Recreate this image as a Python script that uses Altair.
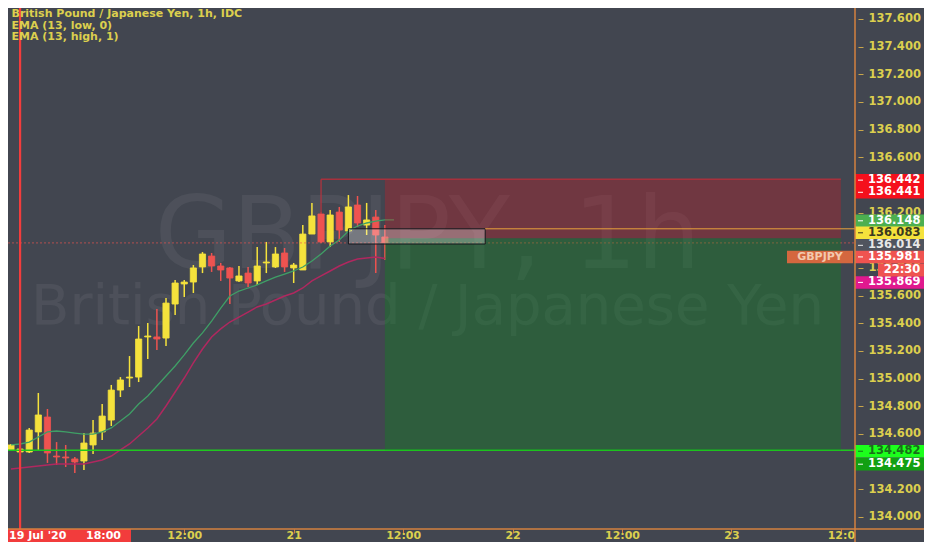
import altair as alt
import pandas as pd
import numpy as np

# ---------------- data ----------------
times = [
    "2020-07-19T17:00:00Z", "2020-07-19T18:00:00Z", "2020-07-19T19:00:00Z", "2020-07-19T20:00:00Z",
    "2020-07-19T21:00:00Z", "2020-07-19T22:00:00Z", "2020-07-19T23:00:00Z",
    "2020-07-20T00:00:00Z", "2020-07-20T01:00:00Z", "2020-07-20T02:00:00Z", "2020-07-20T03:00:00Z",
    "2020-07-20T04:00:00Z", "2020-07-20T05:00:00Z", "2020-07-20T06:00:00Z", "2020-07-20T07:00:00Z",
    "2020-07-20T08:00:00Z", "2020-07-20T09:00:00Z", "2020-07-20T10:00:00Z", "2020-07-20T11:00:00Z",
    "2020-07-20T12:00:00Z", "2020-07-20T13:00:00Z", "2020-07-20T14:00:00Z", "2020-07-20T15:00:00Z",
    "2020-07-20T16:00:00Z", "2020-07-20T17:00:00Z", "2020-07-20T18:00:00Z", "2020-07-20T19:00:00Z",
    "2020-07-20T20:00:00Z", "2020-07-20T21:00:00Z", "2020-07-20T22:00:00Z", "2020-07-20T23:00:00Z",
    "2020-07-21T00:00:00Z", "2020-07-21T01:00:00Z", "2020-07-21T02:00:00Z", "2020-07-21T03:00:00Z",
    "2020-07-21T04:00:00Z", "2020-07-21T05:00:00Z", "2020-07-21T06:00:00Z", "2020-07-21T07:00:00Z",
    "2020-07-21T08:00:00Z", "2020-07-21T09:00:00Z", "2020-07-21T10:00:00Z",
]
opens = [134.484, 134.469, 134.469, 134.614, 134.722, 134.440, 134.433, 134.419, 134.404, 134.520,
         134.614, 134.700, 134.917, 135.004, 135.011, 135.301, 135.301, 135.293, 135.539, 135.684,
         135.698, 135.807, 135.886, 135.814, 135.800, 135.706, 135.763, 135.706, 135.836, 135.807,
         135.908, 135.800, 135.785, 136.045, 136.190, 135.988, 136.204, 136.067, 136.255, 136.110,
         136.168, 136.024]
highs = [134.527, 134.495, 134.642, 134.896, 134.780, 134.541, 134.520, 134.433, 134.606, 134.700,
         134.816, 134.954, 135.011, 135.163, 135.380, 135.402, 135.503, 135.583, 135.713, 135.713,
         135.821, 135.915, 135.908, 135.836, 135.807, 135.814, 135.807, 135.951, 135.988, 135.951,
         135.944, 135.836, 136.110, 136.270, 136.200, 136.219, 136.241, 136.327, 136.320, 136.270,
         136.219, 136.110]
lows = [134.480, 134.465, 134.462, 134.484, 134.390, 134.375, 134.361, 134.317, 134.339, 134.455,
        134.556, 134.657, 134.867, 134.939, 134.975, 135.142, 135.207, 135.236, 135.460, 135.590,
        135.619, 135.763, 135.771, 135.706, 135.539, 135.698, 135.662, 135.677, 135.763, 135.800,
        135.771, 135.691, 135.785, 136.045, 135.980, 135.951, 135.988, 136.060, 136.096, 136.038,
        135.763, 135.857]
closes = [134.520, 134.491, 134.628, 134.737, 134.462, 134.433, 134.426, 134.397, 134.534, 134.606,
          134.729, 134.917, 134.990, 135.011, 135.286, 135.308, 135.286, 135.546, 135.691, 135.698,
          135.800, 135.901, 135.814, 135.785, 135.727, 135.742, 135.691, 135.814, 135.843, 135.901,
          135.807, 135.821, 136.045, 136.176, 135.988, 136.183, 136.074, 136.241, 136.125, 136.147,
          136.038, 135.981]

# EMA (13, high, 1) -- shifted one bar to the right, so one more point
ema_high_times = times + ["2020-07-21T11:00:00Z"]
ema_high = [134.520, 134.527, 134.541, 134.578, 134.614, 134.621, 134.614, 134.606, 134.599, 134.599,
            134.614, 134.643, 134.693, 134.744, 134.816, 134.874, 134.946, 135.019, 135.091, 135.171,
            135.257, 135.330, 135.416, 135.510, 135.597, 135.633, 135.655, 135.677, 135.706, 135.734,
            135.756, 135.778, 135.807, 135.850, 135.901, 135.959, 136.002, 136.067, 136.103, 136.125,
            136.139, 136.147, 136.148]
# EMA (13, low, 0)
ema_low = [134.346, 134.353, 134.361, 134.368, 134.375, 134.382, 134.382, 134.382, 134.382, 134.397,
           134.411, 134.440, 134.484, 134.527, 134.585, 134.643, 134.708, 134.802, 134.903, 135.004,
           135.113, 135.214, 135.301, 135.359, 135.409, 135.445, 135.481, 135.518, 135.539, 135.568,
           135.597, 135.619, 135.655, 135.706, 135.742, 135.778, 135.814, 135.843, 135.865, 135.872,
           135.879, 135.869]

header_lines = ["British Pound / Japanese Yen, 1h, IDC", "EMA (13, low, 0)", "EMA (13, high, 1)"]
watermark_lines = ["GBPJPY, 1h", "British Pound / Japanese Yen"]

# price-scale labels (136.000, 136.400 and 134.400 sit fully under the coloured tags)
y_ticks = [134.0, 134.2, 134.6, 134.8, 135.0, 135.2, 135.4, 135.6, 135.8,
           136.2, 136.6, 136.8, 137.0, 137.2, 137.4, 137.6]

last_price = 135.981
entry_price = 136.014
stop_price = 136.442
target_price = 134.482
box_top, box_bottom = 136.083, 135.973
crosshair_time = "2020-07-19T18:00:00Z"
position_start, position_end = "2020-07-21T10:00:00Z", "2020-07-23T12:00:00Z"
stop_line_start = "2020-07-21T03:00:00Z"
stop_line_low = 136.190
box_start, box_end = "2020-07-21T06:00:00Z", "2020-07-21T21:00:00Z"

tag_prices = [136.442, 136.441, 136.148, 136.083, 136.014, 135.981, 135.869, 134.482, 134.475]
tag_texts = ["136.442", "136.441", "136.148", "136.083", "136.014", "135.981", "135.869", "134.482", "134.475"]
tag_fill = ["#f5101c", "#f5101c", "#4caf50", "#f5e23c", "#50545e", "#ef5350", "#e0198e", "#1cff1c", "#12a012"]
tag_ink = ["#ffffff", "#ffffff", "#ffffff", "#3a3a20", "#e8e8e8", "#ffffff", "#ffffff", "#1a6e1a", "#ffffff"]
tag_dy = [1, 13, 1, 4, 7, 14, 24, 1, 13]

countdown_text = "22:30"
symbol_tag = "GBPJPY"
crosshair_label = ["19 Jul '20", "18:00"]

# ---------------- style ----------------
BG = "#424650"
ORANGE = "#d4823f"
YELLOW = "#dccf4e"
UP = "#f5e23c"
DOWN = "#ee5350"
FONT = "DejaVu Sans"
W, H = 847, 521
PAD_R, PAD_B = 69, 13

x_scale = alt.Scale(type="utc", domain=[
    alt.DateTime(year=2020, month=7, date=19, hours=17, minutes=13, seconds=20, utc=True),
    alt.DateTime(year=2020, month=7, date=23, hours=13, utc=True)])
y_scale = alt.Scale(domain=[133.9124, 137.6795], zero=False, nice=False)

x_axis = alt.Axis(
    values=[alt.DateTime(year=2020, month=7, date=d, hours=h, utc=True)
            for d, h in [(20, 12), (21, 0), (21, 12), (22, 0), (22, 12), (23, 0), (23, 12)]],
    labelExpr="utchours(datum.value) == 0 ? ('' + utcdate(datum.value)) : (utcdate(datum.value) == 23 ? '12:0' : '12:00')",
    labelColor=YELLOW, labelFont=FONT, labelFontSize=11, labelFontWeight="bold",
    tickColor=ORANGE, tickSize=4, domain=False, grid=False, labelPadding=5.5,
    labelBaseline="alphabetic", labelFlush=False, labelOverlap=False, title=None)
y_axis = alt.Axis(
    orient="right", values=y_ticks, format=".3f",
    labelColor=YELLOW, labelFont=FONT, labelFontSize=11.5, labelFontWeight="bold",
    tickColor="#c9a64a", tickSize=5, offset=3, labelPadding=5, domain=False, grid=False,
    labelAlign="left", labelBaseline="middle", labelOverlap=False, labelFlush=False, title=None)


def X(f):
    return alt.X(f"{f}:T", scale=x_scale, axis=x_axis, title=None)


def Y(f):
    return alt.Y(f"{f}:Q", scale=y_scale, axis=y_axis, title=None)


one = pd.DataFrame({"a": [0]})

df = pd.DataFrame({"t": times, "o": opens, "h": highs, "l": lows, "c": closes})
df["dir"] = np.where(df["c"] >= df["o"], "up", "down")
cscale = alt.Scale(domain=["up", "down"], range=[UP, DOWN])

layers = []

# watermark
wm_sizes = [100, 56]
wm_base = [260, 316]
for txt, fs, yb in zip(watermark_lines, wm_sizes, wm_base):
    layers.append(alt.Chart(pd.DataFrame({"t": [txt]})).mark_text(
        font=FONT, fontSize=fs, color="#ffffff", opacity=0.055, align="center", baseline="alphabetic"
    ).encode(x=alt.value(W / 2 - 4), y=alt.value(yb), text="t:N"))

# candles
layers.append(alt.Chart(df).mark_rule(strokeWidth=1.5, clip=True).encode(
    x=X("t"), y=Y("l"), y2="h:Q",
    color=alt.Color("dir:N", scale=cscale, legend=None)))
layers.append(alt.Chart(df).mark_bar(size=6.2, strokeWidth=0.8, clip=True).encode(
    x=X("t"), y=Y("o"), y2="c:Q",
    color=alt.Color("dir:N", scale=cscale, legend=None),
    stroke=alt.Stroke("dir:N", scale=cscale, legend=None)))

# EMAs
layers.append(alt.Chart(pd.DataFrame({"t": ema_high_times, "v": ema_high})).mark_line(
    color="#3f9f66", strokeWidth=1.3, clip=True).encode(x=X("t"), y=Y("v")))
layers.append(alt.Chart(pd.DataFrame({"t": times, "v": ema_low})).mark_line(
    color="#b0285f", strokeWidth=1.5, clip=True).encode(x=X("t"), y=Y("v")))

# last price dotted line
layers.append(alt.Chart(pd.DataFrame({"p": [last_price]})).mark_rule(
    color="#ef5350", opacity=0.65, strokeDash=[2, 2], strokeWidth=1).encode(
    x=alt.value(0), x2=alt.value(W), y=Y("p")))
# target horizontal line
layers.append(alt.Chart(pd.DataFrame({"p": [target_price]})).mark_rule(
    color="#1fc71f", strokeWidth=1.5).encode(x=alt.value(0), x2=alt.value(W), y=Y("p")))
# crosshair vertical line
layers.append(alt.Chart(pd.DataFrame({"t": [crosshair_time]})).mark_rule(
    color="#f23c3c", strokeWidth=2.2, clip=True).encode(x=X("t"), y=alt.value(0), y2=alt.value(H)))

# short position zones (stop = red, target = green)
zone_specs = [(entry_price, stop_price, "#db1721"), (target_price, entry_price, "#009614")]
for lo, hi, col in zone_specs:
    layers.append(alt.Chart(pd.DataFrame({"s": [position_start], "e": [position_end], "lo": [lo], "hi": [hi]}))
                  .mark_rect(fill=col, fillOpacity=0.3).encode(x=X("s"), x2="e:T", y=Y("lo"), y2="hi:Q"))

# stop drawing lines
layers.append(alt.Chart(pd.DataFrame({"s": [stop_line_start], "e": [position_end], "p": [stop_price]})).mark_rule(
    color="#a8303c", strokeWidth=1.5).encode(x=X("s"), x2="e:T", y=Y("p")))
layers.append(alt.Chart(pd.DataFrame({"s": [stop_line_start], "p": [stop_price], "q": [stop_line_low]})).mark_rule(
    color="#b8323e", strokeWidth=1.2).encode(x=X("s"), y=Y("p"), y2="q:Q"))

# grey box and its extension line
layers.append(alt.Chart(pd.DataFrame({"s": [box_start], "e": [box_end], "a": [box_bottom], "b": [box_top]})).mark_rect(
    fill="#ffffff", fillOpacity=0.28, stroke="#15171c", strokeWidth=1).encode(
    x=X("s"), x2="e:T", y=Y("a"), y2="b:Q"))
layers.append(alt.Chart(pd.DataFrame({"s": [box_end], "p": [box_top]})).mark_rule(
    color="#e9a23b", strokeWidth=1).encode(x=X("s"), x2=alt.value(W), y=Y("p")))

# header legend
for txt, yb in zip(header_lines, [9, 20.5, 32]):
    layers.append(alt.Chart(pd.DataFrame({"t": [txt]})).mark_text(
        font=FONT, fontSize=11, fontWeight="bold", color=YELLOW, align="left", baseline="alphabetic"
    ).encode(x=alt.value(3.5), y=alt.value(yb), text="t:N"))

# symbol tag on the price line
layers.append(alt.Chart(pd.DataFrame({"p": [last_price]})).mark_rule(
    color="#d4673f", strokeWidth=12.5, yOffset=14).encode(x=alt.value(779), x2=alt.value(845), y=Y("p")))
layers.append(alt.Chart(pd.DataFrame({"p": [last_price], "t": [symbol_tag]})).mark_text(
    font=FONT, fontSize=11, fontWeight="bold", color="#f3c9ae", align="center", baseline="middle", dy=14
).encode(x=alt.value(812), y=Y("p"), text="t:N"))

# price axis tags
for p, txt, fill, ink, dy in zip(tag_prices, tag_texts, tag_fill, tag_ink, tag_dy):
    d = pd.DataFrame({"p": [p], "t": [txt]})
    layers.append(alt.Chart(d).mark_rule(color=fill, strokeWidth=12.5, yOffset=dy).encode(
        x=alt.value(W), x2=alt.value(W + PAD_R), y=Y("p")))
    layers.append(alt.Chart(d).mark_rule(color=ink, strokeWidth=1, yOffset=dy).encode(
        x=alt.value(W + 3), x2=alt.value(W + 8), y=Y("p")))
    layers.append(alt.Chart(d).mark_text(
        font=FONT, fontSize=11.5, fontWeight="bold", color=ink, align="left", baseline="middle", dy=dy
    ).encode(x=alt.value(W + 13), y=Y("p"), text="t:N"))

# countdown tag
layers.append(alt.Chart(pd.DataFrame({"p": [last_price]})).mark_rule(
    color="#ef5350", strokeWidth=13, yOffset=27).encode(x=alt.value(W + 23), x2=alt.value(W + PAD_R), y=Y("p")))
layers.append(alt.Chart(pd.DataFrame({"p": [last_price], "t": [countdown_text]})).mark_text(
    font=FONT, fontSize=11.5, fontWeight="bold", color="#ffffff", align="center", baseline="middle", dy=27
).encode(x=alt.value(W + 47), y=Y("p"), text="t:N"))

# crosshair time tag
layers.append(alt.Chart(one).mark_rule(color="#f23c3c", strokeWidth=13).encode(
    x=alt.value(0), x2=alt.value(123), y=alt.value(H + 6.5)))
for txt, xp in zip(crosshair_label, [1, 78]):
    layers.append(alt.Chart(pd.DataFrame({"t": [txt]})).mark_text(
        font=FONT, fontSize=11, fontWeight="bold", color="#ffffff", align="left", baseline="alphabetic"
    ).encode(x=alt.value(xp), y=alt.value(H + 10), text="t:N"))

# axis lines
layers.append(alt.Chart(one).mark_rule(color=ORANGE, strokeWidth=1.5).encode(
    x=alt.value(W), y=alt.value(0), y2=alt.value(H + PAD_B)))
layers.append(alt.Chart(one).mark_rule(color=ORANGE, strokeWidth=1.5).encode(
    x=alt.value(0), x2=alt.value(W + PAD_R), y=alt.value(H)))

chart = alt.layer(*layers).properties(
    width=W, height=H,
    autosize=alt.AutoSizeParams(type="none"),
    padding={"left": 0, "top": 0, "right": PAD_R, "bottom": PAD_B},
    background=BG,
).configure_view(stroke=None)

chart.save("out.html", embed_options={"renderer": "svg", "actions": False})
